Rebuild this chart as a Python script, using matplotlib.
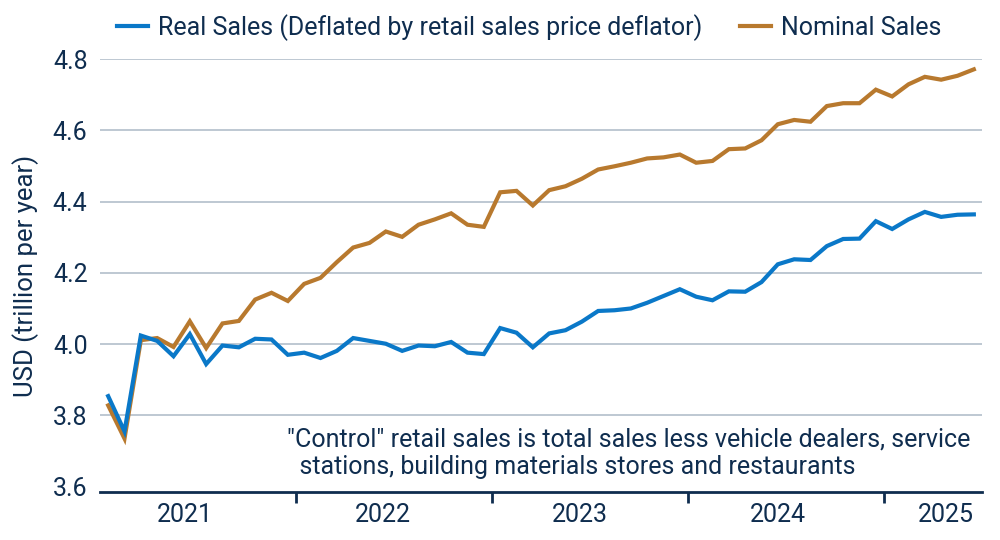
import numpy as np
import pandas as pd
import matplotlib
matplotlib.use("Agg")
import matplotlib.pyplot as plt

# monthly data, Jan 2021 .. Jun 2025 (USD trillion per year)
months = pd.date_range("2021-01-01", "2025-06-01", freq="MS")

real_sales = [
    3.854, 3.755, 4.024, 4.009, 3.966, 4.028, 3.944, 3.996, 3.991, 4.015,
    4.013, 3.970, 3.976, 3.961, 3.981, 4.017, 4.009, 4.001, 3.981, 3.996,
    3.994, 4.006, 3.976, 3.972, 4.045, 4.032, 3.991, 4.030, 4.039, 4.063,
    4.093, 4.095, 4.100, 4.116, 4.135, 4.154, 4.133, 4.123, 4.148, 4.147,
    4.174, 4.224, 4.238, 4.236, 4.275, 4.295, 4.296, 4.345, 4.323, 4.350,
    4.371, 4.357, 4.363, 4.364,
]

nominal_sales = [
    3.828, 3.735, 4.011, 4.017, 3.992, 4.064, 3.989, 4.058, 4.065, 4.125,
    4.144, 4.121, 4.169, 4.186, 4.230, 4.271, 4.284, 4.316, 4.301, 4.335,
    4.350, 4.367, 4.335, 4.329, 4.426, 4.430, 4.389, 4.432, 4.443, 4.464,
    4.490, 4.499, 4.509, 4.521, 4.524, 4.532, 4.509, 4.514, 4.547, 4.549,
    4.572, 4.617, 4.629, 4.624, 4.668, 4.676, 4.676, 4.714, 4.695, 4.729,
    4.750, 4.742, 4.753, 4.771,
]

years = ["2021", "2022", "2023", "2024", "2025"]
year_label_pos = [4.7, 16.8, 28.9, 41.0, 51.3]   # month index of label
year_breaks = [11.5, 23.5, 35.5, 47.5]
y_ticks = [3.6, 3.8, 4.0, 4.2, 4.4, 4.6, 4.8]

note = ('"Control" retail sales is total sales less vehicle dealers, service\n'
        '  stations, building materials stores and restaurants')

NAVY = "#0f2d4f"
BLUE = "#0a78c8"
GOLD = "#b8792e"
GRID = "#b9c4cf"
FS = 18

plt.rcParams["font.family"] = ["Roboto", "DejaVu Sans"]

fig = plt.figure(figsize=(10, 5.4), dpi=100)
ax = fig.add_axes([0.100, 0.0889, 0.882, 0.8018])

x = np.arange(len(months))
ax.plot(x, real_sales, color=BLUE, lw=3, label="Real Sales (Deflated by retail sales price deflator)",
        solid_joinstyle="miter", zorder=3)
ax.plot(x, nominal_sales, color=GOLD, lw=3, label="Nominal Sales",
        solid_joinstyle="miter", zorder=2)

ax.set_xlim(-0.5, 53.5)
ax.set_ylim(3.585, 4.8)

ax.set_yticks(y_ticks)
ax.set_yticklabels([f"{v:.1f}" for v in y_ticks])
ax.tick_params(axis="y", length=0, pad=9, labelsize=FS, labelcolor=NAVY)
for v in y_ticks[1:]:
    ax.axhline(v, color=GRID, lw=1.3, zorder=1)

ax.set_xticks(year_breaks)
ax.set_xticklabels([])
ax.tick_params(axis="x", which="major", direction="out", length=8, width=2, color=NAVY)
ax.set_xticks(year_label_pos, minor=True)
ax.set_xticklabels(years, minor=True)
ax.tick_params(axis="x", which="minor", length=0, pad=8, labelsize=FS, labelcolor=NAVY)

for side in ["top", "right", "left"]:
    ax.spines[side].set_visible(False)
ax.spines["bottom"].set_color(NAVY)
ax.spines["bottom"].set_linewidth(2)

ax.set_ylabel("USD (trillion per year)", fontsize=18.5, color=NAVY, labelpad=10)

ax.text(0.212, 0.09, note, transform=ax.transAxes, fontsize=FS, color=NAVY,
        ha="left", va="center", linespacing=1.2)

fig.legend(loc="upper center", bbox_to_anchor=(0.529, 1.016), ncol=2, frameon=False,
           fontsize=FS, labelcolor=NAVY, handlelength=1.25, columnspacing=1.5,
           handletextpad=0.4)

fig.savefig("out.png", dpi=100)
